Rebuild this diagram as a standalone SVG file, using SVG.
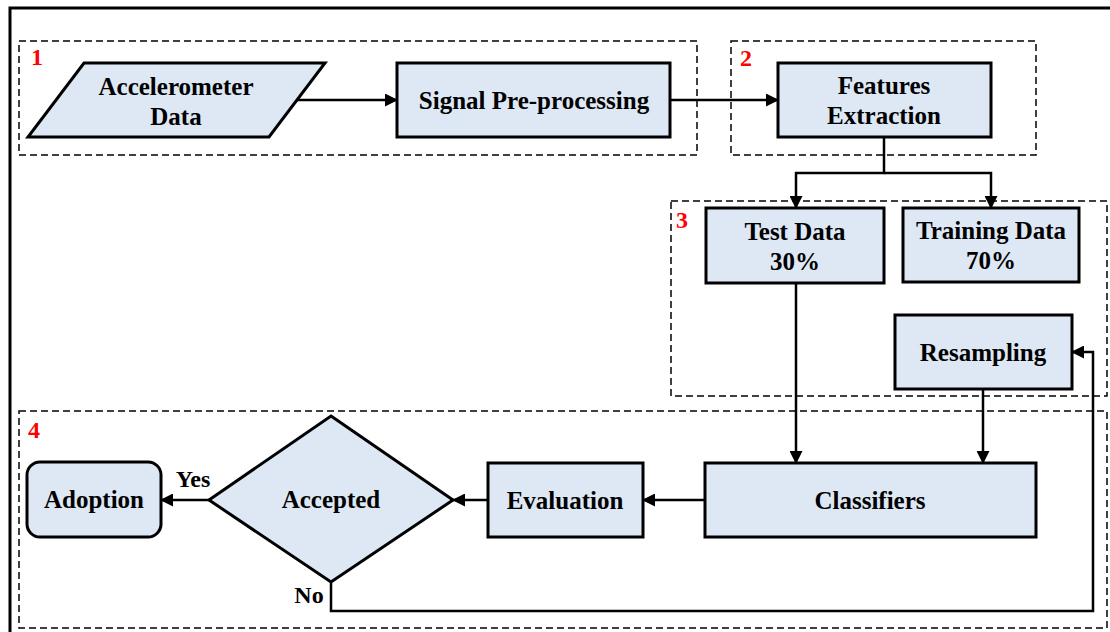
<svg xmlns="http://www.w3.org/2000/svg" width="1110" height="632" viewBox="0 0 1110 632">
  <style>
    .frame { fill: none; stroke: #000; stroke-width: 3; }
    .stage { fill: none; stroke: #000; stroke-width: 1.5; stroke-dasharray: 7 4; }
    .box { fill: #dde8f4; stroke: #000; stroke-width: 3; }
    .lbl { font-family: "Liberation Serif", "Times New Roman", serif; font-weight: bold; font-size: 25px; fill: #000; text-anchor: middle; }
    .tag { font-family: "Liberation Serif", "Times New Roman", serif; font-weight: bold; font-size: 24px; fill: #000; text-anchor: middle; }
    .num { font-family: "Liberation Serif", "Times New Roman", serif; font-weight: bold; font-size: 24px; fill: #ff0000; }
    .wire { fill: none; stroke: #000; stroke-width: 2.5; }
  </style>
  <defs>
    <marker id="arrow" viewBox="0 0 13 13" refX="12" refY="6.5" markerWidth="13" markerHeight="13" markerUnits="userSpaceOnUse" orient="auto">
      <path d="M0,0 L13,6.5 L0,13 Z" fill="#000"/>
    </marker>
  </defs>

  <rect width="1110" height="632" fill="#fff"/>

  <!-- outer frame, runs off the right and bottom edges -->
  <path class="frame" d="M10,632 V8 H1110"/>

  <!-- dashed stage boundaries -->
  <g id="stages">
    <rect class="stage" x="19" y="41" width="678" height="114"/>
    <rect class="stage" x="731" y="41" width="305" height="114"/>
    <rect class="stage" x="671" y="201" width="436" height="195"/>
    <rect class="stage" x="19" y="411" width="1088" height="217"/>
    <text class="num" x="31" y="65">1</text>
    <text class="num" x="740" y="66">2</text>
    <text class="num" x="676" y="228">3</text>
    <text class="num" x="28" y="438">4</text>
  </g>

  <g id="connectors">
    <path class="wire" d="M297,100 H397" marker-end="url(#arrow)"/>
    <path class="wire" d="M670,100 H778" marker-end="url(#arrow)"/>
    <path class="wire" d="M884,137 V173 H796 V208" marker-end="url(#arrow)"/>
    <path class="wire" d="M884,173 H991 V208" marker-end="url(#arrow)"/>
    <path class="wire" d="M796,283 V463" marker-end="url(#arrow)"/>
    <path class="wire" d="M983,389 V463" marker-end="url(#arrow)"/>
    <path class="wire" d="M705,500 H643" marker-end="url(#arrow)"/>
    <path class="wire" d="M488,500 H453" marker-end="url(#arrow)"/>
    <path class="wire" d="M209,500 H161" marker-end="url(#arrow)"/>
    <path class="wire" d="M331,582 V611 H1093 V352 H1072" marker-end="url(#arrow)"/>
    <text class="tag" x="193" y="487">Yes</text>
    <text class="tag" x="309" y="603">No</text>
  </g>

  <g id="accelerometer-data">
    <polygon class="box" points="84,63 325,63 269,137 28,137"/>
    <text class="lbl" x="176" y="95">Accelerometer</text>
    <text class="lbl" x="176" y="125">Data</text>
  </g>

  <g id="signal-preprocessing">
    <rect class="box" x="397" y="63" width="273" height="74"/>
    <text class="lbl" x="534" y="109">Signal Pre-processing</text>
  </g>

  <g id="features-extraction">
    <rect class="box" x="778" y="63" width="213" height="74"/>
    <text class="lbl" x="884" y="94">Features</text>
    <text class="lbl" x="884" y="124">Extraction</text>
  </g>

  <g id="test-data">
    <rect class="box" x="706" y="208" width="178" height="75"/>
    <text class="lbl" x="795" y="240">Test Data</text>
    <text class="lbl" x="795" y="270">30%</text>
  </g>

  <g id="training-data">
    <rect class="box" x="903" y="208" width="176" height="74"/>
    <text class="lbl" x="991" y="239">Training Data</text>
    <text class="lbl" x="991" y="269">70%</text>
  </g>

  <g id="resampling">
    <rect class="box" x="895" y="315" width="177" height="74"/>
    <text class="lbl" x="983" y="361">Resampling</text>
  </g>

  <g id="classifiers">
    <rect class="box" x="705" y="463" width="331" height="74"/>
    <text class="lbl" x="870" y="509">Classifiers</text>
  </g>

  <g id="evaluation">
    <rect class="box" x="488" y="463" width="155" height="74"/>
    <text class="lbl" x="565" y="509">Evaluation</text>
  </g>

  <g id="accepted">
    <polygon class="box" points="331,416 453,500 331,582 209,500"/>
    <text class="lbl" x="331" y="508">Accepted</text>
  </g>

  <g id="adoption">
    <rect class="box" x="27" y="462" width="134" height="75" rx="13" ry="13"/>
    <text class="lbl" x="94" y="508">Adoption</text>
  </g>
</svg>
